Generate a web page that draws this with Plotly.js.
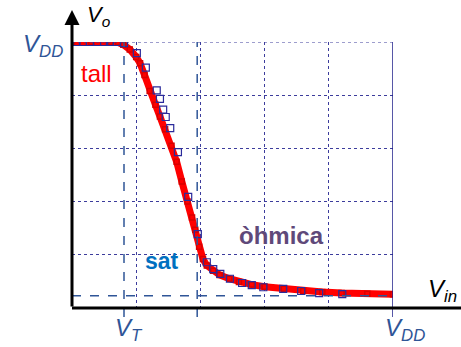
<!DOCTYPE html>
<html>
<head>
<meta charset="utf-8">
<script src="https://cdn.plot.ly/plotly-3.0.1.min.js"></script>
<style>html,body{margin:0;padding:0;background:#fff;}#chart{width:461px;height:347px;}</style>
</head>
<body>
<div id="chart"></div>
<script>
// Simulated transfer curve (red) — Vin, Vo
const vinFit = [0, 0.3, 0.6, 0.72, 0.8, 0.9, 1.0, 1.06, 1.13, 1.21, 1.3, 1.37, 1.45, 1.55, 1.63, 1.71, 1.8, 1.87, 1.92, 1.98, 2.04, 2.1, 2.2, 2.3, 2.45, 2.6, 2.8, 3.0, 3.3, 3.6, 3.9, 4.2, 4.6, 5.0];
const voFit  = [5, 5, 5, 4.99, 4.95, 4.86, 4.72, 4.6, 4.38, 4.08, 3.82, 3.6, 3.36, 3.05, 2.75, 2.38, 2.0, 1.7, 1.47, 1.15, 0.92, 0.8, 0.7, 0.62, 0.55, 0.49, 0.44, 0.4, 0.36, 0.32, 0.3, 0.28, 0.27, 0.26];
// Measured points (blue squares)
const vinMeas = [0.07, 0.17, 0.28, 0.39, 0.5, 0.59, 0.7, 0.81, 1.01, 1.15, 1.32, 1.37, 1.42, 1.46, 1.53, 1.65, 1.81, 1.96, 2.10, 2.20, 2.31, 2.46, 2.65, 2.80, 2.98, 3.29, 3.57, 3.85, 4.21];
const voMeas  = [5.0, 5.0, 5.0, 5.0, 5.0, 5.0, 5.0, 4.98, 4.79, 4.52, 4.09, 3.93, 3.73, 3.59, 3.38, 2.93, 2.09, 1.39, 0.86, 0.73, 0.64, 0.55, 0.47, 0.43, 0.39, 0.36, 0.32, 0.28, 0.26];
// Reference levels
const VDD = 5;
const VT = 0.81;
const VsatEdge = 1.95;
const VoLow = 0.23;

const dashCol = '#2f5597';
const traces = [
  {x: vinFit, y: voFit, mode: 'lines+markers', line: {color: '#ff0000', width: 7},
   marker: {symbol: 'square-open', size: 5, color: '#d80000', line: {width: 1.5}}, hoverinfo: 'skip'},
  {x: vinMeas, y: voMeas, mode: 'markers',
   marker: {symbol: 'square-open', size: 7, color: '#2b2b9b', line: {width: 1.2}}}
];

const shapes = [
  // right border (VDD)
  {type: 'line', xref: 'x', yref: 'paper', x0: VDD, x1: VDD, y0: -0.034, y1: 1, line: {color: '#1f1f8a', width: 1.5}},
  // top dotted border
  {type: 'line', xref: 'paper', yref: 'y', x0: 0, x1: 1, y0: 5, y1: 5, line: {color: '#3c3c9c', width: 1, dash: 'dot'}},
  // dashed guides
  {type: 'line', xref: 'x', yref: 'paper', x0: VT, x1: VT, y0: -0.034, y1: 1, line: {color: dashCol, width: 1.5, dash: 'dash'}},
  {type: 'line', xref: 'x', yref: 'paper', x0: VsatEdge, x1: VsatEdge, y0: -0.034, y1: 1, line: {color: dashCol, width: 1.5, dash: 'dash'}},
  {type: 'line', xref: 'x', yref: 'y', x0: 0, x1: VDD, y0: VoLow, y1: VoLow, line: {color: dashCol, width: 1.5, dash: 'dash'}},
  // x axis line
  {type: 'line', xref: 'paper', yref: 'paper', x0: 0, x1: 1.22, y0: 0, y1: 0, line: {color: '#000', width: 3}}
];

const F = 'Liberation Sans, Arial, sans-serif';
const annotations = [
  // y axis arrow
  {xref: 'paper', yref: 'paper', x: 0, y: 1.12, ax: 0, ay: 298, axref: 'pixel', ayref: 'pixel', text: '', showarrow: true,
   arrowhead: 2, arrowsize: 1, arrowwidth: 3, arrowcolor: '#000'},
  {xref: 'paper', yref: 'paper', x: 0.04, y: 1.096, xanchor: 'left', yanchor: 'middle', showarrow: false,
   text: '<i>V<sub>o</sub></i>', font: {family: F, size: 22, color: '#000'}},
  {xref: 'paper', yref: 'paper', x: -0.022, y: 0.985, xanchor: 'right', yanchor: 'middle', showarrow: false,
   text: '<i>V<sub>DD</sub></i>', font: {family: F, size: 24, color: dashCol}},
  {xref: 'paper', yref: 'paper', x: 0.075, y: 0.88, xanchor: 'center', yanchor: 'middle', showarrow: false,
   text: 'tall', font: {family: F, size: 24, color: '#ff0000'}},
  {xref: 'paper', yref: 'paper', x: 0.28, y: 0.177, xanchor: 'center', yanchor: 'middle', showarrow: false,
   text: '<b>sat</b>', font: {family: F, size: 23, color: '#0070c0'}},
  {xref: 'paper', yref: 'paper', x: 0.654, y: 0.274, xanchor: 'center', yanchor: 'middle', showarrow: false,
   text: '<b>òhmica</b>', font: {family: F, size: 24, color: '#5f497a'}},
  {xref: 'paper', yref: 'paper', x: 0.128, y: -0.081, xanchor: 'left', yanchor: 'middle', showarrow: false,
   text: '<i>V<sub>T</sub></i>', font: {family: F, size: 24, color: dashCol}},
  {xref: 'paper', yref: 'paper', x: 0.97, y: -0.081, xanchor: 'left', yanchor: 'middle', showarrow: false,
   text: '<i>V<sub>DD</sub></i>', font: {family: F, size: 24, color: dashCol}},
  {xref: 'paper', yref: 'paper', x: 1.104, y: 0.064, xanchor: 'left', yanchor: 'middle', showarrow: false,
   text: '<i>V<sub>in</sub></i>', font: {family: F, size: 24, color: '#000'}}
];

const layout = {
  width: 461, height: 347,
  margin: {l: 72, r: 68, t: 42, b: 39, pad: 0},
  paper_bgcolor: '#fff', plot_bgcolor: '#fff',
  showlegend: false,
  xaxis: {range: [0, 5], dtick: 1, tick0: 0, showgrid: true, gridcolor: '#3c3c9c', griddash: 'dot', gridwidth: 1,
          zeroline: false, showticklabels: false, ticks: '', showline: false, fixedrange: true},
  yaxis: {range: [0, 5], dtick: 1, tick0: 0, showgrid: true, gridcolor: '#3c3c9c', griddash: 'dot', gridwidth: 1,
          zeroline: false, showticklabels: false, ticks: '', showline: false, fixedrange: true},
  shapes: shapes,
  annotations: annotations
};

Plotly.newPlot('chart', traces, layout, {displayModeBar: false, staticPlot: true});
</script>
</body>
</html>
